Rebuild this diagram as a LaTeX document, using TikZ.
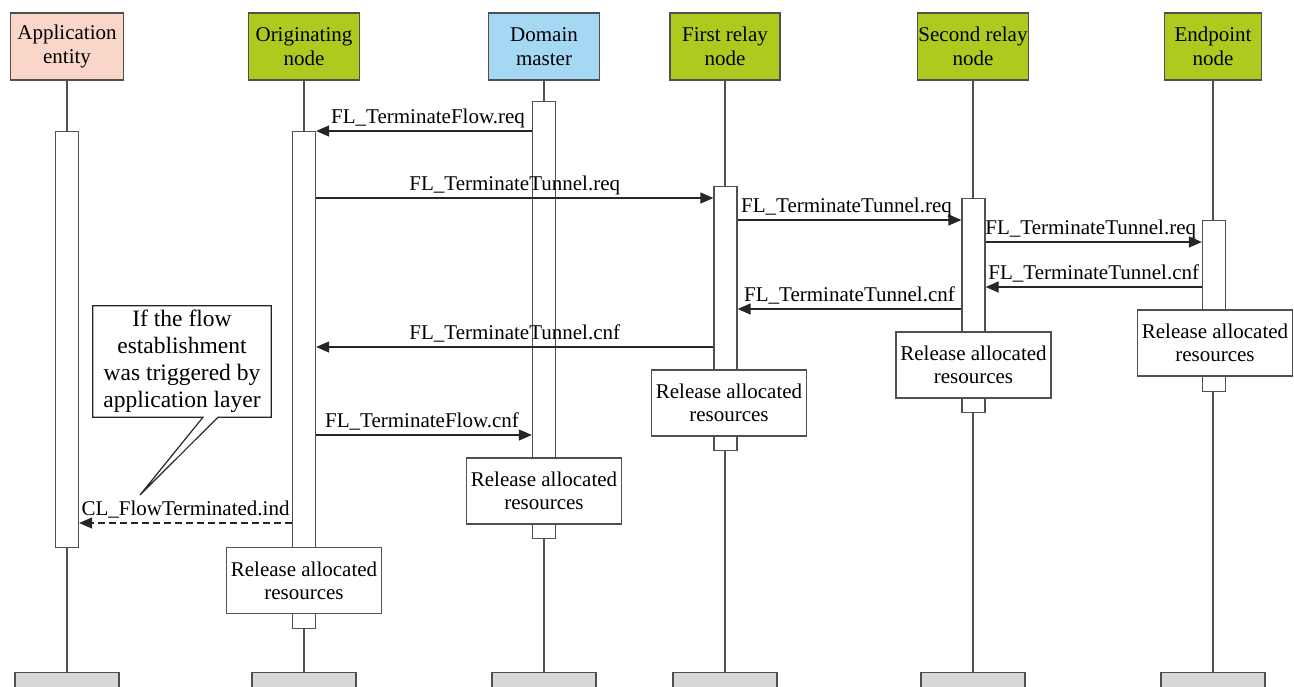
\documentclass[tikz,border=0pt]{standalone}
\usepackage{fontspec}
\setmainfont{Liberation Serif}
\usetikzlibrary{arrows.meta}
\definecolor{peach}{RGB}{250,214,201}
\definecolor{lgreen}{RGB}{175,202,30}
\definecolor{lblue}{RGB}{165,216,243}
\definecolor{footgray}{RGB}{216,216,216}
\definecolor{edge}{RGB}{80,80,80}
\tikzset{
  hdr/.style={draw=edge, line width=1.3pt, minimum height=67pt, align=center,
    inner sep=0pt, font=\fontsize{21}{24}\selectfont},
  foot/.style={draw=edge, line width=1.3pt, fill=footgray, minimum width=104pt,
    minimum height=30pt, anchor=north, inner sep=0pt},
  life/.style={draw=edge, line width=1.3pt},
  actbar/.style={draw=edge, line width=1.3pt, fill=white, minimum width=23pt,
    anchor=north, inner sep=0pt},
  relbox/.style={draw=edge, line width=1.3pt, fill=white, minimum width=155pt,
    minimum height=66pt, align=center, inner sep=0pt,
    font=\fontsize{21}{23}\selectfont},
  msg/.style={draw=black!85, line width=1.3pt,
    -{Triangle[length=13pt,width=11pt]}},
  dmsg/.style={msg, dash pattern=on 7pt off 4pt},
  lbl/.style={anchor=base, yshift=8pt, inner sep=0pt,
    font=\fontsize{21}{24}\selectfont},
  callt/.style={minimum width=178pt, minimum height=111pt, align=center,
    inner sep=0pt, font=\fontsize{23.5}{27}\selectfont},
}
\begin{document}
\begin{tikzpicture}[x=1pt,y=-1pt]
\useasboundingbox (0,0) rectangle (1294,686);

% headers
\node[hdr, fill=peach,  minimum width=113pt] (hA) at (67,46.5)    {Application\\entity};
\node[hdr, fill=lgreen, minimum width=111pt] (hO) at (304,46.5)   {Originating\\node};
\node[hdr, fill=lblue,  minimum width=111pt] (hD) at (544,46.5)   {Domain\\master};
\node[hdr, fill=lgreen, minimum width=110pt] (hF) at (725,46.5)   {First relay\\node};
\node[hdr, fill=lgreen, minimum width=111pt] (hS) at (973,46.5)   {Second relay\\node};
\node[hdr, fill=lgreen, minimum width=97pt]  (hE) at (1213,46.5)  {Endpoint\\node};

% footers
\node[foot] (fA) at (67,672) {};
\node[foot] (fO) at (304,672) {};
\node[foot] (fD) at (544,672) {};
\node[foot] (fF) at (725,672) {};
\node[foot] (fS) at (973,672) {};
\node[foot] (fE) at (1213,672) {};

% lifelines
\draw[life] (hA.south) -- (fA.north);
\draw[life] (hO.south) -- (fO.north);
\draw[life] (hD.south) -- (fD.north);
\draw[life] (hF.south) -- (fF.north);
\draw[life] (hS.south) -- (fS.north);
\draw[life] (hE.south) -- (fE.north);

% activation bars
\node[actbar, minimum height=416pt] (bA) at (67,131) {};
\node[actbar, minimum height=497pt] (bO) at (304,131) {};
\node[actbar, minimum height=437pt] (bD) at (544,101) {};
\node[actbar, minimum height=264pt] (bF) at (725.5,186) {};
\node[actbar, minimum height=214pt] (bS) at (973.5,198) {};
\node[actbar, minimum height=171pt] (bE) at (1214,220) {};

% release boxes
\node[relbox] (rO) at (304,580.5)  {Release allocated\\resources};
\node[relbox] (rD) at (544,491)    {Release allocated\\resources};
\node[relbox] (rF) at (729,403)    {Release allocated\\resources};
\node[relbox] (rS) at (973.5,365)  {Release allocated\\resources};
\node[relbox] (rE) at (1215,343)   {Release allocated\\resources};

% message levels
\coordinate (m1) at (0,131);
\coordinate (m2) at (0,198);
\coordinate (m3) at (0,220);
\coordinate (m4) at (0,242);
\coordinate (m5) at (0,287);
\coordinate (m6) at (0,309);
\coordinate (m7) at (0,347);
\coordinate (m8) at (0,435);
\coordinate (m9) at (0,523);

\draw[msg] (bD.west |- m1) -- (bO.east |- m1)
  node[lbl, midway, xshift=4pt] {FL\_TerminateFlow.req};
\draw[msg] (bO.east |- m2) -- (bF.west |- m2)
  node[lbl, midway] {FL\_TerminateTunnel.req};
\draw[msg] (bF.east |- m3) -- (bS.west |- m3)
  node[lbl, midway, xshift=-3pt] {FL\_TerminateTunnel.req};
\draw[msg] (bS.east |- m4) -- (bE.west |- m4)
  node[lbl, midway, xshift=-3pt] {FL\_TerminateTunnel.req};
\draw[msg] (bE.west |- m5) -- (bS.east |- m5)
  node[lbl, midway] {FL\_TerminateTunnel.cnf};
\draw[msg] (bS.west |- m6) -- (bF.east |- m6)
  node[lbl, midway] {FL\_TerminateTunnel.cnf};
\draw[msg] (bF.west |- m7) -- (bO.east |- m7)
  node[lbl, midway] {FL\_TerminateTunnel.cnf};
\draw[msg] (bO.east |- m8) -- (bD.west |- m8)
  node[lbl, midway, xshift=-2pt] {FL\_TerminateFlow.cnf};
\draw[dmsg] (bO.west |- m9) -- (bA.east |- m9)
  node[lbl, midway] {CL\_FlowTerminated.ind};

% callout
\node[callt] (co) at (182,361.5) {If the flow\\establishment\\was triggered by\\application layer};
\coordinate (tip) at (140,495);
\draw[line width=1.2pt, black!85, line join=miter]
  (co.south west) -- (co.north west) -- (co.north east) -- (co.south east)
  -- ([xshift=36pt]co.south) -- (tip) -- ([xshift=21pt]co.south) -- cycle;
\end{tikzpicture}
\end{document}
